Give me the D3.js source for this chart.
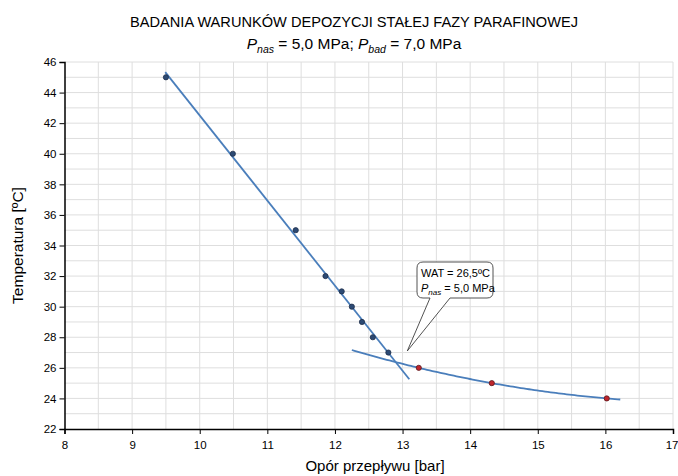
<!DOCTYPE html>
<html><head><meta charset="utf-8">
<script src="https://cdn.jsdelivr.net/npm/d3@7"></script>
<style>
html,body{margin:0;padding:0;background:#fff;}
svg text{font-family:"Liberation Sans",Arial,sans-serif;fill:#000;}
</style></head>
<body><svg id="c" width="678" height="476"></svg>
<script>
// Data
const oporBlue = [9.50, 10.49, 11.42, 11.86, 12.10, 12.25, 12.40, 12.56, 12.79];
const tempBlue = [45, 40, 35, 32, 31, 30, 29, 28, 27];
const oporRed = [13.24, 14.32, 16.02];
const tempRed = [26, 25, 24];
const xTicks = [8, 9, 10, 11, 12, 13, 14, 15, 16, 17];
const yTicks = [22, 24, 26, 28, 30, 32, 34, 36, 38, 40, 42, 44, 46];
const linearRange = [9.49, 13.10];
const polyRange = [12.25, 16.22];
const watLabel = "WAT = 26,5ºC";
const watPoint = [13.07, 27.1];

const svg = d3.select("#c");
const x = d3.scaleLinear().domain([8, 17]).range([64.5, 673]);
const y = d3.scaleLinear().domain([22, 46]).range([429, 62]);

// Gridlines
const g = svg.append("g");
g.selectAll("line.vg").data(d3.range(8.5, 17.01, 0.5)).join("line")
  .attr("x1", d => x(d)).attr("x2", d => x(d)).attr("y1", y(22)).attr("y2", y(46))
  .attr("stroke", "#dedede").attr("stroke-width", 1);
g.selectAll("line.hg").data(d3.range(23, 46.01, 1)).join("line")
  .attr("x1", x(8)).attr("x2", x(17)).attr("y1", d => y(d)).attr("y2", d => y(d))
  .attr("stroke", "#dedede").attr("stroke-width", 1);

// Axes
const xAxis = svg.append("g").attr("transform", `translate(0,${y(22)})`)
  .call(d3.axisBottom(x).tickValues(xTicks).tickSize(5).tickPadding(7).tickFormat(d3.format("d")));
const yAxis = svg.append("g").attr("transform", `translate(${x(8)},0)`)
  .call(d3.axisLeft(y).tickValues(yTicks).tickSize(5).tickPadding(3).tickFormat(d3.format("d")));
[xAxis, yAxis].forEach(a => {
  a.select(".domain").attr("stroke", "#000").attr("stroke-width", 1.5);
  a.selectAll(".tick line").attr("stroke", "#000");
  a.selectAll(".tick text").attr("font-size", 11.5).attr("font-family", "Liberation Sans, Arial, sans-serif").attr("fill", "#222");
});
xAxis.selectAll(".tick text").filter(d => d === 17).attr("text-anchor", "end").attr("dx", 5);

// Linear trend (least squares over blue points)
const mx = d3.mean(oporBlue), my = d3.mean(tempBlue);
const sxy = d3.sum(oporBlue, (v, i) => (v - mx) * (tempBlue[i] - my));
const sxx = d3.sum(oporBlue, v => (v - mx) * (v - mx));
const slope = sxy / sxx, icpt = my - slope * mx;
svg.append("line")
  .attr("x1", x(linearRange[0])).attr("y1", y(icpt + slope * linearRange[0]))
  .attr("x2", x(linearRange[1])).attr("y2", y(icpt + slope * linearRange[1]))
  .attr("stroke", "#4a7ebb").attr("stroke-width", 1.8);

// Quadratic trend through red points (Newton form)
const [x0, x1, x2] = oporRed, [y0, y1, y2] = tempRed;
const d1 = (y1 - y0) / (x1 - x0), d2 = (y2 - y1) / (x2 - x1), dd = (d2 - d1) / (x2 - x0);
const poly = t => y0 + d1 * (t - x0) + dd * (t - x0) * (t - x1);
const pts = d3.range(0, 101).map(i => {
  const t = polyRange[0] + (polyRange[1] - polyRange[0]) * i / 100; return [t, poly(t)];
});
svg.append("path").datum(pts)
  .attr("d", d3.line().x(d => x(d[0])).y(d => y(d[1])))
  .attr("fill", "none").attr("stroke", "#4a7ebb").attr("stroke-width", 1.8);

// Points
svg.selectAll("circle.b").data(oporBlue).join("circle")
  .attr("cx", d => x(d)).attr("cy", (d, i) => y(tempBlue[i])).attr("r", 2.6)
  .attr("fill", "#2c4a74").attr("stroke", "#1f2f4a").attr("stroke-width", 0.8);
svg.selectAll("circle.r").data(oporRed).join("circle")
  .attr("cx", d => x(d)).attr("cy", (d, i) => y(tempRed[i])).attr("r", 2.6)
  .attr("fill", "#c0262d").attr("stroke", "#5a1a1f").attr("stroke-width", 0.8);

// Callout
const bx = 417, by = 262, bw = 76, bh = 36, r = 6;
const tx = x(watPoint[0]), ty = y(watPoint[1]);
const tl = 430, tr = 450;
const callPath = `M${bx + r},${by} H${bx + bw - r} Q${bx + bw},${by} ${bx + bw},${by + r} V${by + bh - r} Q${bx + bw},${by + bh} ${bx + bw - r},${by + bh} H${tr} L${tx},${ty} L${tl},${by + bh} H${bx + r} Q${bx},${by + bh} ${bx},${by + bh - r} V${by + r} Q${bx},${by} ${bx + r},${by} Z`;
svg.append("path").attr("d", callPath).attr("fill", "#fff").attr("stroke", "#404040").attr("stroke-width", 0.9);
svg.append("text").attr("x", bx + 4).attr("y", by + 15).attr("font-size", 11).text(watLabel);
const t2 = svg.append("text").attr("x", bx + 4).attr("y", by + 30).attr("font-size", 11);
t2.append("tspan").attr("font-style", "italic").text("P");
t2.append("tspan").attr("font-style", "italic").attr("font-size", 8).attr("dy", 3).text("nas");
t2.append("tspan").attr("dy", -3).text(" = 5,0 MPa");

// Titles
svg.append("text").attr("x", 354).attr("y", 27).attr("text-anchor", "middle").attr("font-size", 14.6)
  .text("BADANIA WARUNKÓW DEPOZYCJI STAŁEJ FAZY PARAFINOWEJ");
const st = svg.append("text").attr("x", 354).attr("y", 49).attr("text-anchor", "middle").attr("font-size", 15.5);
st.append("tspan").attr("font-style", "italic").text("P");
st.append("tspan").attr("font-style", "italic").attr("font-size", 10.5).attr("dy", 4).text("nas");
st.append("tspan").attr("dy", -4).text(" = 5,0 MPa; ");
st.append("tspan").attr("font-style", "italic").text("P");
st.append("tspan").attr("font-style", "italic").attr("font-size", 10.5).attr("dy", 4).text("bad");
st.append("tspan").attr("dy", -4).text(" = 7,0 MPa");

svg.append("text").attr("x", 375).attr("y", 471).attr("text-anchor", "middle").attr("font-size", 15)
  .text("Opór przepływu [bar]");
svg.append("text").attr("transform", `translate(23,${(y(22) + y(46)) / 2}) rotate(-90)`)
  .attr("text-anchor", "middle").attr("font-size", 15.5).text("Temperatura [ºC]");
</script></body></html>
